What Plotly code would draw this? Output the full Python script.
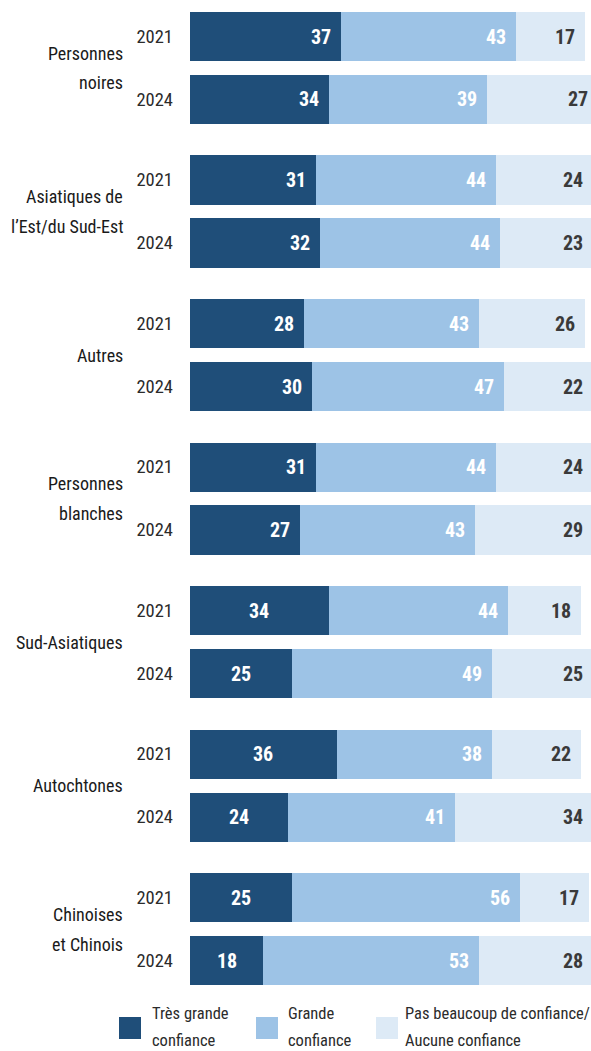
import plotly.graph_objects as go

# données
groupes = [
    "Personnes<br>noires",
    "Asiatiques de<br>l’Est/du Sud-Est",
    "Autres",
    "Personnes<br>blanches",
    "Sud-Asiatiques",
    "Autochtones",
    "Chinoises<br>et Chinois",
]
annees = ["2021", "2024"]
series = [
    "Très grande<br>confiance",
    "Grande<br>confiance",
    "Pas beaucoup de confiance/<br>Aucune confiance",
]
tres_grande_2021 = [37, 31, 28, 31, 34, 36, 25]
tres_grande_2024 = [34, 32, 30, 27, 25, 24, 18]
grande_2021 = [43, 44, 43, 44, 44, 38, 56]
grande_2024 = [39, 44, 47, 43, 49, 41, 53]
pas_2021 = [17, 24, 26, 24, 18, 22, 17]
pas_2024 = [27, 23, 22, 29, 25, 34, 28]

# style
couleurs = ["#1F4E79", "#9DC3E6", "#DDEAF6"]
couleurs_texte = ["white", "white", "#3A3A3A"]
centre_fonce = [False, False, False, False, True, True, True]
FONT = "Roboto Condensed, Liberation Sans Narrow, Roboto, sans-serif"

W, H = 591, 1051
ML, MB = 190, 61
PW, PH = W - ML, H - MB
XMAX = 98.4
PAS_GROUPE = 2.278
PX_Y = 63.0  # pixels par unité y

# positions des barres (2021, 2024 pour chaque groupe)
pos, vals = [], [[], [], []]
lignes = [(tres_grande_2021, tres_grande_2024), (grande_2021, grande_2024), (pas_2021, pas_2024)]
for g in range(len(groupes)):
    for k in range(2):
        pos.append(g * PAS_GROUPE + k)
        for s in range(3):
            vals[s].append(lignes[s][k][g])

fig = go.Figure()
for s in range(3):
    fig.add_trace(
        go.Bar(
            x=vals[s], y=pos, orientation="h", width=0.778,
            marker=dict(color=couleurs[s], line=dict(width=0)),
            name=series[s].replace("<br>", " "), showlegend=False, hoverinfo="x",
        )
    )

annotations = []
# étiquettes des valeurs (x en fraction du domaine pour ne pas être masquées au-delà de l'axe)
for i, y in enumerate(pos):
    cum = 0
    g = i // 2
    for s in range(3):
        v = vals[s][i]
        if s == 0 and centre_fonce[g]:
            x, anchor, shift = v / 2, "center", 0
        else:
            x, anchor, shift = cum + v, "right", -8
        annotations.append(dict(x=x / XMAX, y=y, xref="paper", yref="y", text=f"<b>{v}</b>",
                                showarrow=False, xanchor=anchor, yanchor="middle", xshift=shift,
                                font=dict(size=20, color=couleurs_texte[s], family=FONT)))
        cum += v

# noms des groupes, une annotation par ligne
for g, nom in enumerate(groupes):
    parts = nom.split("<br>")
    n = len(parts)
    for j, t in enumerate(parts):
        yc = g * PAS_GROUPE + 0.5 + (j - (n - 1) / 2) * 30 / PX_Y
        annotations.append(dict(x=0, y=yc, xref="paper", yref="y", text=t,
                                showarrow=False, xanchor="right", yanchor="middle", xshift=-65,
                                font=dict(size=18, color="#1A1A1A", family=FONT)))


def px_x(p):
    return (p - ML) / PW


def px_y(p):
    return 1 - p / PH


# légende manuelle
shapes = []
leg_carre = [119, 256, 376]
leg_texte = [150, 286, 403]
for s in range(3):
    shapes.append(dict(type="rect", xref="paper", yref="paper",
                       x0=px_x(leg_carre[s]), x1=px_x(leg_carre[s] + 22),
                       y0=px_y(1039), y1=px_y(1017),
                       fillcolor=couleurs[s], line=dict(width=0)))
    for j, t in enumerate(series[s].split("<br>")):
        annotations.append(dict(x=px_x(leg_texte[s]), y=px_y(1013 + 27 * j), xref="paper", yref="paper",
                                text=t, showarrow=False, xanchor="left", yanchor="middle",
                                font=dict(size=16.5, color="#2B2B2B", family=FONT)))

fig.update_layout(
    barmode="stack",
    width=W, height=H,
    margin=dict(l=ML, r=0, t=0, b=MB),
    plot_bgcolor="white", paper_bgcolor="white",
    font=dict(family=FONT, size=18, color="#2B2B2B"),
    annotations=annotations, shapes=shapes,
    bargap=0,
)
fig.update_xaxes(range=[0, XMAX], visible=False, fixedrange=True)
fig.update_yaxes(
    range=[6 * PAS_GROUPE + 1 + 29.5 / PX_Y, -36.5 / PX_Y],
    tickvals=pos, ticktext=annees * len(groupes),
    showgrid=False, zeroline=False, showline=False, ticks="",
    ticklabelstandoff=16, tickfont=dict(size=18.5, color="#2B2B2B", family=FONT),
    fixedrange=True,
)

fig.write_html("out.html", config={"displayModeBar": False},
               post_script="document.body.style.margin='0';")
